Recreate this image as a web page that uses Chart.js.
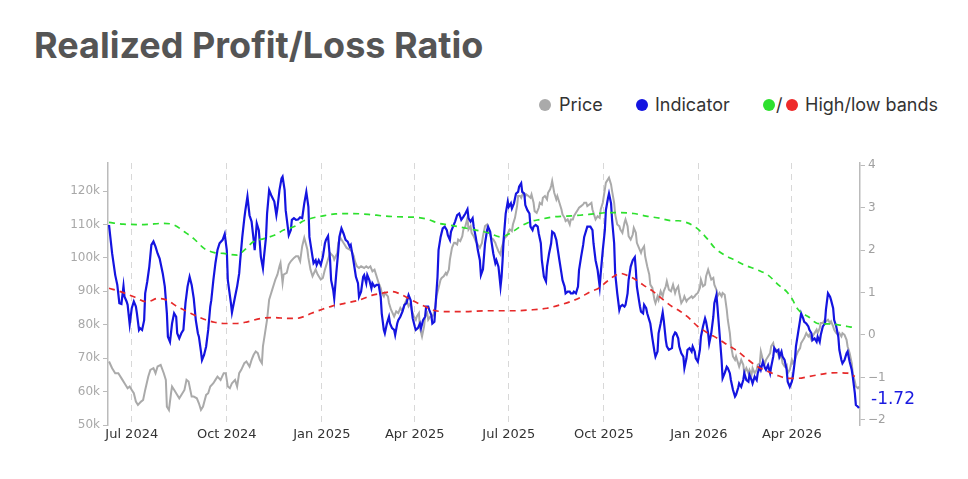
<!DOCTYPE html>
<html>
<head>
    <title>Realized Profit/Loss Ratio</title>
    <script src="https://cdn.jsdelivr.net/npm/chart.js"></script>
    <style>
        body { margin: 0; background: #fff; font-family: Inter, "Noto Sans", sans-serif; }
        #page { position: relative; width: 968px; height: 479px; overflow: hidden; }
        #title { position: absolute; left: 34px; top: 27px; font-size: 36px; line-height: 36px; font-weight: 700; color: #555; }
        .lg { position: absolute; top: 96px; font-size: 18px; line-height: 18px; color: #333; }
        .dot { position: absolute; top: 99px; width: 12px; height: 12px; border-radius: 50%; }
        #wrap { position: absolute; left: 0; top: 0; width: 968px; height: 479px; }
    </style>
</head>
<body>
<div id="page">
    <div id="title">Realized Profit/Loss Ratio</div>

    <div class="dot" style="left:539px;background:#aaaaaa"></div>
    <div class="lg" style="left:559px">Price</div>
    <div class="dot" style="left:636px;background:#1414e0"></div>
    <div class="lg" style="left:655px">Indicator</div>
    <div class="dot" style="left:763px;background:#2ee02e"></div>
    <div class="lg" style="left:776px">/</div>
    <div class="dot" style="left:786px;background:#ee2a2a"></div>
    <div class="lg" style="left:805px">High/low bands</div>

    <div id="wrap"><canvas id="myChart"></canvas></div>
</div>

<script>
    // x values are days since 2024-06-08
    const monthTicks = [23, 115, 207, 297, 388, 480, 572, 662];
    const monthLabels = ['Jul 2024', 'Oct 2024', 'Jan 2025', 'Apr 2025', 'Jul 2025', 'Oct 2025', 'Jan 2026', 'Apr 2026'];
    const priceTicks = [50, 60, 70, 80, 90, 100, 110, 120];   // thousands
    const ratioTicks = [-2, -1, 0, 1, 2, 3, 4];

    // price in thousands, [day, value]
    const price = [
        [1,69.0],[4,67.0],[7,65.5],[10,65.5],[14,63.5],[16,62.5],[19,61.0],[21,61.5],[23,60.5],[25,59.5],
        [27,57.0],[29,56.0],[32,57.0],[34,57.5],[36,60.5],[39,64.5],[41,66.5],[44,67.0],[46,65.5],[48,67.5],
        [51,68.0],[54,65.5],[56,63.5],[57,55.5],[59,54.5],[61,59.5],[62,61.5],[65,60.0],[66,59.5],[69,58.0],
        [71,59.0],[74,60.5],[76,63.5],[78,63.0],[81,58.5],[83,58.5],[86,58.0],[88,56.5],[90,54.5],[92,55.5],
        [95,59.0],[97,59.5],[99,61.5],[102,62.5],[104,63.5],[106,64.5],[109,63.5],[112,65.5],[114,65.5],[116,61.5],
        [118,61.0],[120,62.5],[123,63.5],[125,61.5],[127,65.5],[129,66.5],[132,68.5],[134,69.0],[137,67.5],[139,69.5],
        [141,71.0],[143,72.0],[145,71.5],[147,69.5],[149,68.5],[150,73.5],[152,77.5],[154,81.5],[156,87.5],[158,89.5],
        [159,90.5],[161,92.5],[162,93.5],[164,95.0],[166,97.5],[167,98.5],[169,92.5],[170,95.0],[173,95.5],[175,98.0],
        [177,99.0],[180,100.0],[182,100.5],[184,100.5],[186,99.0],[188,103.5],[190,106.0],[193,102.5],[194,100.0],[196,96.5],
        [198,94.5],[201,96.5],[203,95.0],[206,93.5],[208,94.0],[210,96.5],[213,99.5],[215,101.5],[218,100.5],[219,99.5],
        [222,101.5],[223,104.5],[225,106.0],[227,105.0],[229,104.0],[231,103.0],[234,102.5],[236,102.0],[238,100.5],[239,99.0],
        [241,97.5],[243,97.0],[245,97.5],[248,97.0],[250,97.5],[252,97.0],[254,97.5],[256,96.0],[258,96.5],[260,94.5],
        [262,92.5],[264,91.0],[265,89.5],[267,88.5],[268,89.5],[271,88.5],[272,86.5],[274,84.5],[277,82.5],[279,84.0],
        [281,83.5],[283,85.0],[285,84.0],[287,86.0],[289,87.5],[291,85.5],[293,86.5],[294,84.5],[296,82.5],[298,81.5],
        [299,82.5],[301,83.5],[302,79.0],[304,76.5],[306,79.5],[307,82.5],[309,83.5],[310,81.5],[312,82.5],[314,82.5],
        [315,83.0],[317,85.5],[318,88.5],[320,91.0],[322,93.5],[323,94.0],[325,94.5],[327,95.5],[328,95.0],[330,96.5],
        [331,99.5],[333,103.0],[335,104.5],[336,104.5],[338,104.0],[339,105.5],[341,105.0],[343,106.5],[344,108.5],[346,109.5],
        [348,112.0],[349,108.5],[351,109.5],[352,107.5],[354,106.5],[356,105.0],[357,104.5],[359,103.5],[360,103.0],[362,104.5],
        [363,106.5],[365,109.5],[367,110.0],[368,108.5],[370,107.0],[371,106.0],[373,105.5],[375,104.5],[376,103.5],[378,102.0],
        [380,101.0],[381,103.0],[383,105.0],[384,106.0],[386,106.5],[388,108.0],[389,108.5],[391,108.0],[392,110.0],[394,112.0],
        [396,115.5],[397,118.5],[399,118.5],[400,118.0],[402,119.5],[404,118.5],[405,119.0],[407,118.5],[409,118.0],[410,119.0],
        [412,116.5],[413,114.0],[415,113.5],[417,115.0],[418,116.5],[420,116.0],[421,118.0],[423,118.5],[425,117.5],[426,119.5],
        [428,120.5],[429,121.5],[430,123.0],[432,119.5],[434,117.5],[435,118.5],[437,116.5],[439,114.5],[440,113.0],[442,112.0],
        [443,111.0],[445,111.5],[447,110.0],[448,111.5],[450,111.5],[451,112.5],[453,113.5],[455,114.5],[456,115.0],[458,115.5],
        [460,116.0],[461,116.5],[463,116.5],[464,115.5],[466,116.0],[468,116.5],[469,114.5],[471,112.5],[472,111.5],[474,112.5],
        [476,112.0],[477,114.5],[479,116.5],[481,120.5],[482,122.5],[484,123.5],[485,124.0],[487,122.0],[488,120.0],[490,116.5],
        [491,113.0],[493,110.0],[495,109.5],[496,108.5],[498,107.5],[500,110.5],[501,111.5],[503,109.5],[504,106.5],[506,105.5],
        [508,107.0],[509,109.0],[511,107.5],[512,104.5],[514,103.0],[516,101.5],[517,102.5],[519,103.5],[520,100.5],[522,97.5],
        [524,95.0],[525,92.0],[527,91.0],[529,87.5],[530,86.5],[532,88.5],[533,87.5],[535,90.0],[537,88.5],[538,90.0],
        [540,91.5],[541,93.0],[543,90.5],[545,90.0],[547,92.0],[549,89.5],[550,90.5],[552,91.5],[553,89.5],[555,86.5],
        [557,87.5],[558,88.5],[560,87.0],[561,87.5],[563,88.0],[565,88.5],[566,88.0],[568,88.5],[569,89.0],[571,89.5],
        [573,91.0],[574,93.5],[576,91.5],[578,92.0],[579,94.5],[581,96.5],[582,95.5],[584,93.5],[586,94.0],[587,92.0],
        [589,90.5],[590,88.5],[592,89.5],[594,88.5],[595,89.5],[597,89.0],[599,84.5],[600,81.5],[602,77.5],[603,74.0],
        [605,70.5],[607,69.5],[608,70.5],[610,68.5],[611,67.5],[613,69.5],[615,68.0],[616,65.5],[618,67.0],[620,65.5],
        [621,66.5],[623,65.0],[624,67.0],[626,65.5],[628,66.5],[629,68.0],[631,68.5],[632,72.0],[634,69.5],[636,68.5],
        [637,69.5],[639,70.5],[641,71.5],[642,73.5],[644,74.5],[645,73.0],[647,72.5],[649,71.0],[650,70.0],[652,70.5],
        [653,68.5],[655,67.5],[657,68.0],[658,65.5],[660,66.5],[662,69.5],[663,68.5],[665,69.5],[666,70.5],[668,72.0],
        [670,73.0],[671,74.5],[673,75.5],[674,76.0],[676,77.5],[678,76.5],[679,77.0],[681,75.5],[682,76.5],[684,77.5],
        [686,78.5],[687,77.5],[689,79.0],[690,80.5],[692,80.5],[694,81.5],[695,81.0],[697,81.5],[699,80.5],[700,81.0],
        [702,79.5],[703,78.5],[705,77.5],[707,77.0],[708,77.5],[710,76.5],[711,77.5],[713,77.0],[715,75.5],[716,73.5],
        [718,71.5],[720,68.5],[721,65.5],[723,63.0],[724,61.5],[726,61.0],[727,61.5]
    ];

    // realized profit/loss ratio, [day, value]
    const indicator = [
        [1,2.59],[4,1.92],[7,1.41],[9,1.18],[11,0.75],[13,0.73],[15,1.15],[16,0.90],[18,0.79],[19,0.71],
        [21,0.25],[23,0.63],[25,0.79],[27,0.67],[28,0.51],[30,0.12],[31,0.16],[33,0.12],[35,0.35],[36,0.98],
        [38,1.26],[40,1.61],[42,2.12],[44,2.20],[46,2.08],[48,1.92],[50,1.80],[53,1.45],[55,1.14],[57,0.51],
        [58,-0.04],[60,-0.16],[62,0.27],[64,0.51],[66,0.43],[67,0.04],[69,-0.08],[71,0.04],[73,0.12],[75,0.75],
        [77,1.14],[79,1.37],[81,1.18],[83,0.86],[85,0.35],[87,0.04],[88,-0.04],[90,-0.39],[91,-0.59],[93,-0.47],
        [95,-0.27],[97,0.12],[99,0.67],[100,0.82],[102,1.29],[104,1.69],[106,2.00],[108,2.16],[111,2.24],[113,2.38],
        [115,2.00],[116,1.29],[119,0.75],[120,0.53],[123,0.90],[125,1.14],[127,1.45],[128,1.76],[130,2.31],[132,2.75],
        [133,2.94],[135,3.26],[137,2.82],[139,2.67],[141,2.24],[142,2.00],[144,2.63],[146,2.47],[148,1.84],[150,1.57],
        [151,1.84],[153,2.31],[154,2.86],[156,3.41],[158,3.29],[161,3.14],[163,2.82],[164,2.98],[166,3.41],[168,3.69],
        [169,3.73],[171,3.41],[172,2.94],[174,2.55],[175,2.35],[177,2.47],[178,2.71],[180,2.75],[182,2.71],[184,2.72],
        [186,2.77],[188,2.75],[190,3.10],[192,3.37],[194,3.02],[195,2.31],[198,1.84],[199,1.69],[201,1.76],[202,1.65],
        [204,1.76],[206,1.65],[208,1.84],[210,2.16],[211,2.24],[213,2.33],[215,1.76],[216,1.29],[218,1.06],[219,0.86],
        [221,1.45],[223,2.00],[224,2.31],[226,2.51],[228,2.39],[230,2.24],[232,2.20],[234,2.08],[235,2.12],[237,1.84],
        [239,1.53],[240,1.37],[242,1.22],[243,0.90],[245,1.02],[247,1.37],[248,1.41],[250,1.22],[251,1.41],[253,1.29],
        [255,1.10],[256,1.22],[258,1.14],[260,1.18],[262,1.18],[264,0.90],[265,0.51],[267,0.12],[268,0.04],[270,0.27],
        [272,0.43],[273,0.27],[275,0.16],[277,0.12],[278,0.00],[280,0.27],[281,0.35],[283,0.43],[285,0.55],[287,0.71],
        [289,0.75],[291,0.94],[293,0.82],[294,0.59],[295,0.39],[297,0.20],[298,0.12],[300,0.16],[302,0.27],[303,0.16],
        [305,0.35],[307,0.43],[308,0.67],[310,0.67],[311,0.59],[313,0.47],[314,0.27],[316,0.31],[317,0.67],[319,1.37],
        [320,2.00],[322,2.31],[324,2.51],[326,2.55],[328,2.47],[329,2.35],[331,2.24],[332,2.43],[334,2.55],[336,2.67],
        [338,2.82],[340,2.86],[342,2.71],[344,2.78],[346,2.86],[348,2.96],[349,2.75],[351,2.67],[353,2.75],[354,2.55],
        [356,2.31],[358,2.00],[360,1.76],[361,1.41],[363,1.55],[365,2.16],[367,2.47],[368,2.55],[370,2.43],[371,2.24],
        [373,1.92],[375,1.69],[376,1.76],[378,1.61],[380,1.14],[381,1.37],[382,1.76],[383,2.24],[385,2.86],[387,3.14],
        [388,3.02],[390,3.10],[391,2.98],[393,3.10],[395,3.33],[397,3.37],[398,3.49],[400,3.57],[401,3.37],[403,3.33],
        [404,3.06],[406,2.94],[408,2.86],[409,2.55],[411,2.47],[412,2.55],[414,2.59],[416,2.55],[417,2.39],[419,2.16],
        [420,1.76],[422,1.37],[424,1.26],[425,1.61],[427,1.92],[429,2.16],[430,2.43],[432,2.39],[434,2.24],[435,2.08],
        [437,1.76],[439,1.45],[440,1.29],[442,1.14],[443,0.98],[445,1.02],[447,1.02],[448,0.98],[450,0.98],[451,1.02],
        [453,0.98],[455,1.14],[456,1.53],[458,1.84],[460,2.12],[461,2.31],[463,2.47],[464,2.55],[467,2.55],[469,2.47],
        [470,2.16],[472,1.76],[474,1.53],[476,1.14],[477,1.45],[479,2.00],[481,2.47],[482,2.94],[484,3.22],[485,3.33],
        [487,3.10],[488,2.71],[490,2.16],[491,1.45],[493,0.98],[495,0.59],[496,0.67],[498,0.71],[500,0.67],[501,0.71],
        [503,0.98],[504,1.29],[506,1.61],[508,1.76],[510,1.83],[511,1.53],[512,1.14],[514,0.82],[515,0.67],[516,0.55],
        [518,0.51],[519,0.71],[521,0.63],[522,0.51],[524,0.35],[525,0.27],[527,-0.08],[529,-0.39],[530,-0.51],[532,-0.39],
        [533,0.04],[535,0.27],[537,0.53],[538,0.35],[540,-0.12],[541,-0.27],[543,-0.35],[546,-0.31],[547,-0.04],[549,0.06],
        [550,0.04],[552,-0.08],[553,-0.27],[555,-0.43],[557,-0.51],[558,-0.78],[560,-0.55],[561,-0.35],[563,-0.31],[565,-0.39],
        [566,-0.27],[568,-0.39],[569,-0.55],[571,-0.63],[573,-0.35],[574,-0.04],[576,0.20],[578,0.39],[579,0.31],[581,0.04],
        [582,-0.20],[584,0.04],[586,0.43],[587,0.75],[589,0.94],[590,0.67],[592,0.04],[594,-0.59],[595,-1.02],[597,-0.90],
        [599,-0.75],[600,-0.78],[602,-0.90],[603,-1.06],[605,-1.29],[607,-1.45],[608,-1.41],[610,-1.25],[611,-1.14],[613,-1.22],
        [615,-1.06],[616,-0.90],[618,-1.06],[620,-1.10],[621,-0.94],[623,-1.06],[624,-1.14],[626,-0.98],[628,-1.06],[629,-0.90],
        [631,-0.75],[632,-0.82],[634,-0.63],[636,-0.78],[637,-0.82],[639,-0.71],[641,-0.90],[642,-0.75],[644,-0.51],[645,-0.31],
        [647,-0.39],[649,-0.35],[650,-0.51],[652,-0.39],[653,-0.51],[655,-0.59],[657,-0.82],[658,-1.10],[660,-1.22],[662,-1.10],
        [663,-0.98],[665,-0.59],[666,-0.27],[668,0.04],[670,0.35],[671,0.51],[673,0.39],[674,0.31],[676,0.27],[678,0.20],
        [679,0.12],[681,0.04],[682,-0.12],[684,-0.08],[686,-0.16],[687,-0.04],[689,-0.16],[690,0.00],[692,0.20],[694,0.27],
        [695,0.59],[697,0.98],[699,0.90],[700,0.82],[702,0.63],[703,0.35],[705,0.20],[707,-0.04],[708,-0.35],[710,-0.59],
        [711,-0.67],[713,-0.59],[715,-0.43],[716,-0.39],[718,-0.63],[720,-0.82],[721,-0.98],[723,-1.37],[724,-1.65],[726,-1.69],
        [727,-1.72]
    ];

    const highBand = [
        [1,2.65],[15,2.61],[35,2.60],[54,2.63],[64,2.59],[74,2.43],[83,2.27],[93,2.04],[103,1.94],[112,1.92],
        [125,1.88],[132,2.00],[141,2.20],[151,2.27],[161,2.35],[170,2.47],[182,2.57],[188,2.67],[197,2.75],[207,2.80],
        [220,2.85],[236,2.86],[252,2.84],[268,2.80],[285,2.78],[298,2.77],[310,2.72],[320,2.63],[330,2.59],[339,2.55],
        [352,2.49],[364,2.43],[370,2.39],[380,2.31],[389,2.39],[399,2.55],[409,2.67],[418,2.72],[431,2.78],[444,2.80],
        [457,2.82],[470,2.85],[483,2.88],[496,2.88],[509,2.86],[521,2.80],[534,2.75],[546,2.69],[552,2.69],[561,2.64],
        [568,2.55],[574,2.43],[581,2.24],[587,2.06],[597,1.88],[607,1.76],[616,1.65],[629,1.53],[639,1.41],[649,1.18],
        [657,1.02],[663,0.82],[666,0.67],[670,0.55],[678,0.43],[687,0.27],[697,0.26],[707,0.24],[716,0.20],[721,0.18]
    ];

    const lowBand = [
        [1,1.10],[12,1.02],[25,0.90],[38,0.78],[48,0.86],[57,0.82],[67,0.67],[80,0.51],[93,0.37],[103,0.30],
        [112,0.27],[125,0.27],[135,0.31],[148,0.39],[161,0.41],[174,0.39],[182,0.39],[188,0.42],[197,0.51],[207,0.60],
        [217,0.68],[230,0.75],[243,0.82],[256,0.94],[265,0.98],[275,1.02],[285,0.94],[294,0.82],[307,0.67],[317,0.57],
        [330,0.55],[346,0.55],[364,0.57],[376,0.57],[392,0.57],[409,0.59],[425,0.63],[438,0.71],[447,0.78],[457,0.88],
        [467,1.02],[475,1.10],[483,1.26],[489,1.37],[496,1.45],[502,1.41],[509,1.33],[518,1.18],[528,1.02],[538,0.82],
        [546,0.67],[552,0.59],[561,0.43],[571,0.20],[581,0.04],[590,-0.08],[600,-0.24],[610,-0.39],[620,-0.59],[629,-0.75],
        [639,-0.86],[649,-0.96],[658,-1.02],[668,-1.02],[678,-0.98],[687,-0.94],[697,-0.90],[707,-0.89],[716,-0.90],[723,-0.98]
    ];

    const toXY = arr => arr.map(p => ({ x: p[0], y: p[1] }));

    // last indicator value written next to the right axis
    const lastValueLabel = {
        id: 'lastValueLabel',
        afterDatasetsDraw(chart) {
            const last = indicator[indicator.length - 1];
            const y = chart.scales.yRatio.getPixelForValue(last[1]);
            const ctx = chart.ctx;
            ctx.save();
            ctx.font = '17px "DejaVu Sans"';
            ctx.fillStyle = '#1a1ae0';
            ctx.textBaseline = 'middle';
            ctx.fillText(last[1].toFixed(2), chart.chartArea.right + 11, y - 8);
            ctx.restore();
        }
    };

    const tickFont = { family: 'DejaVu Sans', size: 12 };

    new Chart(document.getElementById('myChart').getContext('2d'), {
        type: 'line',
        data: {
            datasets: [
                {
                    label: 'High band',
                    data: toXY(highBand),
                    yAxisID: 'yRatio',
                    borderColor: '#2ee02e',
                    borderWidth: 1.7,
                    borderDash: [6, 5],
                    pointRadius: 0,
                    cubicInterpolationMode: 'monotone',
                    order: 0
                },
                {
                    label: 'Low band',
                    data: toXY(lowBand),
                    yAxisID: 'yRatio',
                    borderColor: '#e62a2a',
                    borderWidth: 1.7,
                    borderDash: [6, 5],
                    pointRadius: 0,
                    cubicInterpolationMode: 'monotone',
                    order: 0
                },
                {
                    label: 'Indicator',
                    data: toXY(indicator),
                    yAxisID: 'yRatio',
                    borderColor: '#1414e0',
                    borderWidth: 2.2,
                    pointRadius: 0,
                    order: 1
                },
                {
                    label: 'Price',
                    data: toXY(price),
                    yAxisID: 'yPrice',
                    borderColor: '#aaaaaa',
                    borderWidth: 2,
                    pointRadius: 0,
                    order: 2
                }
            ]
        },
        options: {
            responsive: true,
            maintainAspectRatio: false,
            animation: false,
            layout: { padding: { top: 163, left: 0, right: 0, bottom: 0 } },
            plugins: { legend: { display: false }, tooltip: { enabled: false } },
            scales: {
                x: {
                    type: 'linear',
                    min: 0,
                    max: 728,
                    afterBuildTicks: axis => { axis.ticks = monthTicks.map(v => ({ value: v })); },
                    afterFit: axis => { axis.height = 54; },
                    ticks: {
                        autoSkip: false,
                        maxRotation: 0,
                        padding: 2,
                        color: '#333',
                        font: { family: 'DejaVu Sans', size: 13 },
                        callback: v => monthLabels[monthTicks.indexOf(v)]
                    },
                    grid: { color: '#d8d8d8', lineWidth: 1, drawTicks: false },
                    border: { display: false, dash: [6, 5] }
                },
                yPrice: {
                    position: 'left',
                    min: 50,
                    max: 128.4,
                    afterBuildTicks: axis => { axis.ticks = priceTicks.map(v => ({ value: v })); },
                    afterFit: axis => { axis.width = 108; },
                    ticks: { color: '#a8a8a8', font: tickFont, padding: 3, callback: v => v + 'k' },
                    grid: { drawOnChartArea: false, drawTicks: true, tickLength: 5, color: '#bbb' },
                    border: { display: true, color: '#bbb', width: 1.5 }
                },
                yRatio: {
                    position: 'right',
                    min: -2.12,
                    max: 4.05,
                    afterBuildTicks: axis => { axis.ticks = ratioTicks.map(v => ({ value: v })); },
                    afterFit: axis => { axis.width = 108; },
                    ticks: { color: '#a0a0a0', font: tickFont, padding: 3, callback: v => String(v).replace('-', '\u2212') },
                    grid: { drawOnChartArea: false, drawTicks: true, tickLength: 5, color: '#bbb' },
                    border: { display: true, color: '#bbb', width: 1.5 }
                }
            }
        },
        plugins: [lastValueLabel]
    });
</script>
</body>
</html>
